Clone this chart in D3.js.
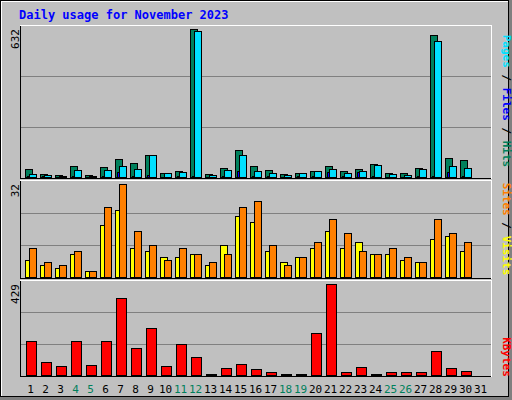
<!DOCTYPE html><html><head><meta charset="utf-8">
<script src="https://cdn.jsdelivr.net/npm/d3@7"></script>
<style>body{margin:0;background:#fff}text{font-family:"DejaVu Sans Mono",monospace}</style></head><body>
<svg id="c" width="512" height="400"></svg>
<script>
const days=d3.range(1,32);
const weekend=[4,5,11,12,18,19,25,26];
const hits=[36,14,10,49,10,44,79,61,96,19,27,632,14,40,117,49,31,14,19,27,49,27,36,57,19,19,40,608,83,74,0];
const pages=[14,10,6,31,6,31,49,36,92,19,23,623,10,31,92,27,19,10,19,27,36,19,27,53,14,10,36,581,49,40,0];
const files=[4,3,2,3,2,3,23,3,10,2,3,3,2,3,27,3,3,2,3,3,23,3,23,3,2,2,3,3,23,3,0];
const visits=[6,4,3,8,2,18,23,10,9,7,7,8,4,11,21,19,9,5,7,10,16,10,12,8,8,6,5,13,14,9,0];
const sites=[10,5,4,9,2,24,32,16,11,6,10,8,5,8,24,26,11,4,7,12,20,15,9,8,10,7,5,20,15,12,0];
const kbytes=[158,59,41,158,45,162,363,125,223,41,148,87,5,31,50,27,12,5,5,200,429,12,36,5,12,12,12,115,31,17,0];
const svg=d3.select("#c");
svg.append("rect").attr("x",0).attr("y",0).attr("width",512).attr("height",400).attr("fill","#808080");
svg.append("rect").attr("x",0).attr("y",0).attr("width",509).attr("height",397).attr("fill","#fff");
svg.append("rect").attr("x",2).attr("y",2).attr("width",507).attr("height",395).attr("fill","#c0c0c0");
svg.append("rect").attr("x",0.5).attr("y",0.5).attr("width",508).attr("height",396).attr("fill","none").attr("stroke","#000");
svg.append("text").attr("x",19).attr("y",19).attr("fill","#0000ff").attr("font-size",12).attr("font-weight","bold").text("Daily usage for November 2023");
const x=d3.scaleBand().domain(days).range([22,487]);
const X0=20,X1=491;
function panel(y0,y1,max,label){
  svg.append("rect").attr("x",X0+.5).attr("y",y0+.5).attr("width",X1-X0).attr("height",y1-y0).attr("fill","#c0c0c0").attr("stroke","#000");
  svg.append("line").attr("x1",X0).attr("x2",X1).attr("y1",y0+.5).attr("y2",y0+.5).attr("stroke","#fff");
  svg.append("line").attr("x1",X1+.5).attr("x2",X1+.5).attr("y1",y0).attr("y2",y1+1).attr("stroke","#fff");
  const y=d3.scaleLinear().domain([0,max]).range([y1-1,y0+4]);
  [1,2].forEach(k=>{const gy=Math.round(y1-(y1-y0)*k/3)+.5;svg.append("line").attr("x1",X0+1).attr("x2",X1).attr("y1",gy).attr("y2",gy).attr("stroke","#808080");});
  svg.append("text").attr("transform",`translate(19,${y0+4}) rotate(-90)`).attr("text-anchor","end").attr("font-size",11).text(label);
  return y;
}
function bars(y,data,off,w,color){
  svg.append("g").selectAll("rect").data(data.map((v,i)=>({v,d:days[i]})).filter(o=>o.v>0)).join("rect")
   .attr("x",o=>x(o.d)+off+.5).attr("y",o=>Math.round(y(o.v))+.5).attr("width",w).attr("height",o=>Math.max(1,y(0)-Math.round(y(o.v))))
   .attr("fill",color).attr("stroke","#000");
}
const y1=panel(25,178,632,"632");
bars(y1,hits,3,7,"#00805c");bars(y1,pages,7,7,"#00e0ff");bars(y1,files,5,2,"#0000ff");
const y2=panel(180,278,32,"32");
bars(y2,visits,3,7,"#ffff00");bars(y2,sites,7,7,"#ff8000");
const y3=panel(280,376,429,"429");
bars(y3,kbytes,4,10,"#ff0000");
svg.append("g").selectAll("text").data(days).join("text").attr("x",d=>x(d)+x.bandwidth()/2+1).attr("y",393).attr("text-anchor","middle").attr("font-size",11)
  .attr("fill",d=>weekend.includes(d)?"#00805c":"#000").text(d=>d);
function side(yc,parts){const t=svg.append("text").attr("transform",`translate(503,${yc}) rotate(90)`).attr("text-anchor","middle").attr("font-size",11).attr("font-weight","bold");
 parts.forEach(p=>t.append("tspan").attr("fill",p[1]).text(p[0]));}
side(101,[["Hits","#00805c"],[" / ","#000"],["Files","#0000ff"],[" / ","#000"],["Pages","#00e0ff"]].reverse());
side(229,[["Visits","#ffff00"],[" / ","#000"],["Sites","#ff8000"]].reverse());
side(357,[["KBytes","#ff0000"]]);
</script></body></html>
